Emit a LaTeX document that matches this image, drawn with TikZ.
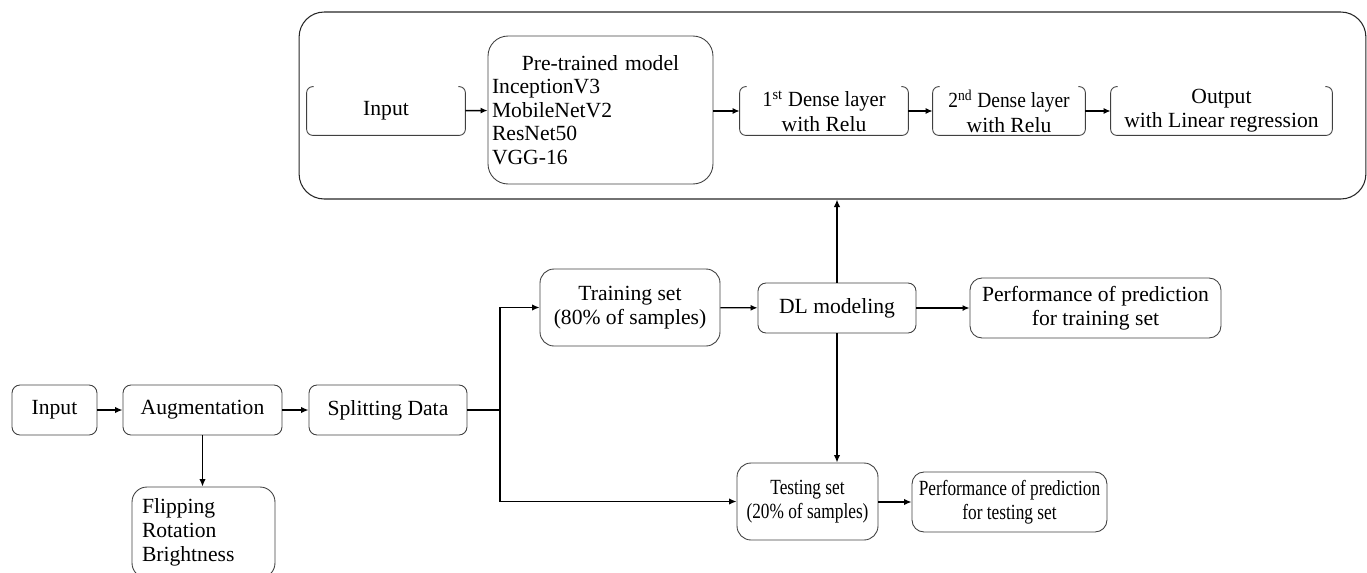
\documentclass[tikz,border=0pt]{standalone}
\usepackage{fontspec}
\usepackage{graphicx}
\setmainfont{Liberation Serif}
\usetikzlibrary{arrows.meta,positioning,calc}
\newcommand{\sqz}[1]{\scalebox{0.8}[1]{#1}}
\tikzset{
  bx/.style={draw=black!75, line width=0.5pt, rounded corners=0.16cm, align=center, inner sep=1pt, font=\fontsize{12.3}{13.8}\selectfont},
  bigbx/.style={bx, rounded corners=0.28cm},
  topbx/.style={draw=none, align=center, inner sep=1pt, font=\fontsize{12.3}{13.8}\selectfont},
  brk/.style={draw=black!75, line width=0.5pt, rounded corners=0.12cm},
  thk/.style={line width=1.1pt, -{Latex[length=1.5mm,width=1.3mm]}},
  thn/.style={line width=0.8pt, -{Latex[length=1.4mm,width=1.2mm]}},
  thkline/.style={line width=1.1pt}
}
\begin{document}
\begin{tikzpicture}[x=0.02cm,y=-0.02cm]
\useasboundingbox (0,0) rectangle (1367,572);
\clip (0,0) rectangle (1367,572);
% big container
\node[draw=black!85, line width=0.6pt, rounded corners=0.5cm, minimum width=21.34cm, minimum height=3.74cm] (big) at (832.5,105.5) {};
% top row
\node[topbx, minimum width=3.16cm, minimum height=0.96cm] (tin) at (386,111) {Input};
\node[draw=black!75, line width=0.5pt, rounded corners=0.4cm, minimum width=4.5cm, minimum height=2.96cm, text width=4.34cm, inner sep=1pt, font=\fontsize{12.3}{13.4}\selectfont] (pre) at (600.5,110)
 {{\centering Pre-trained model\par}\raggedright InceptionV3\\MobileNetV2\\ResNet50\\VGG-16};
\node[topbx, minimum width=3.36cm, minimum height=0.96cm] (d1) at (824,111) {\scalebox{0.95}[1]{1\textsuperscript{st} Dense layer}\\with Relu};
\node[topbx, minimum width=3.04cm, minimum height=0.96cm] (d2) at (1009,111) {\scalebox{0.9}[1]{2\textsuperscript{nd} Dense layer}\\with Relu};
\node[topbx, minimum width=4.42cm, minimum height=0.96cm] (out) at (1221.5,111) {Output\\with Linear regression};
\foreach \n in {tin,d1,d2,out}{
  \draw[brk] ([xshift=0.14cm]\n.north west) -- (\n.north west) -- (\n.south west) -- (\n.south east) -- (\n.north east) -- ([xshift=-0.14cm]\n.north east);
}
\draw[thn] (tin) -- (pre);
\draw[thn] (pre.east |- d1.west) -- (d1.west);
\draw[thn] (d1) -- (d2);
\draw[thn] (d2) -- (out);
% bottom row
\node[bx, minimum width=1.7cm, minimum height=1.0cm] (in) at (54.5,410) {Input};
\node[bx, minimum width=3.18cm, minimum height=1.0cm] (aug) at (202.5,410) {Augmentation};
\node[bx, minimum width=3.16cm, minimum height=1.0cm] (spl) at (388,410) {Splitting Data};
\node[bx, rounded corners=0.3cm, minimum width=2.86cm, minimum height=1.82cm, text width=2.46cm, align=left, font=\fontsize{12.3}{13.6}\selectfont] (flip) at (203.5,532.5) {Flipping\\Rotation\\Brightness};
\node[bigbx, minimum width=3.6cm, minimum height=1.54cm] (train) at (630,307.5) {Training set\\(80\% of samples)};
\node[bx, minimum width=3.16cm, minimum height=1.0cm] (dl) at (837,308) {DL modeling};
\node[bx, rounded corners=0.24cm, minimum width=5.02cm, minimum height=1.2cm] (ptr) at (1095.5,308) {Performance of prediction\\for training set};
\node[bigbx, minimum width=2.82cm, minimum height=1.54cm] (test) at (807.5,501.5) {\sqz{Testing set}\\\sqz{(20\% of samples)}};
\node[bx, rounded corners=0.24cm, minimum width=3.9cm, minimum height=1.2cm] (pte) at (1009.5,502) {\sqz{Performance of prediction}\\\sqz{for testing set}};
\coordinate (br) at (500,410);
\draw[thk] (in) -- (aug);
\draw[thk] (aug) -- (spl);
\draw[thk] (aug.south) -- (flip.north -| aug.south);
\draw[thkline] (spl.east) -- (br);
\draw[thk] (br) |- (train.west);
\draw[thk] (br) |- (test.west);
\draw[thn] (train) -- (dl);
\draw[thn] (dl) -- (ptr);
\draw[thk] (dl.north) -- (dl.north |- big.south);
\draw[thk] (dl.south) -- (dl.south |- test.north);
\draw[thk] (test.east |- pte.west) -- (pte.west);
\end{tikzpicture}
\end{document}
